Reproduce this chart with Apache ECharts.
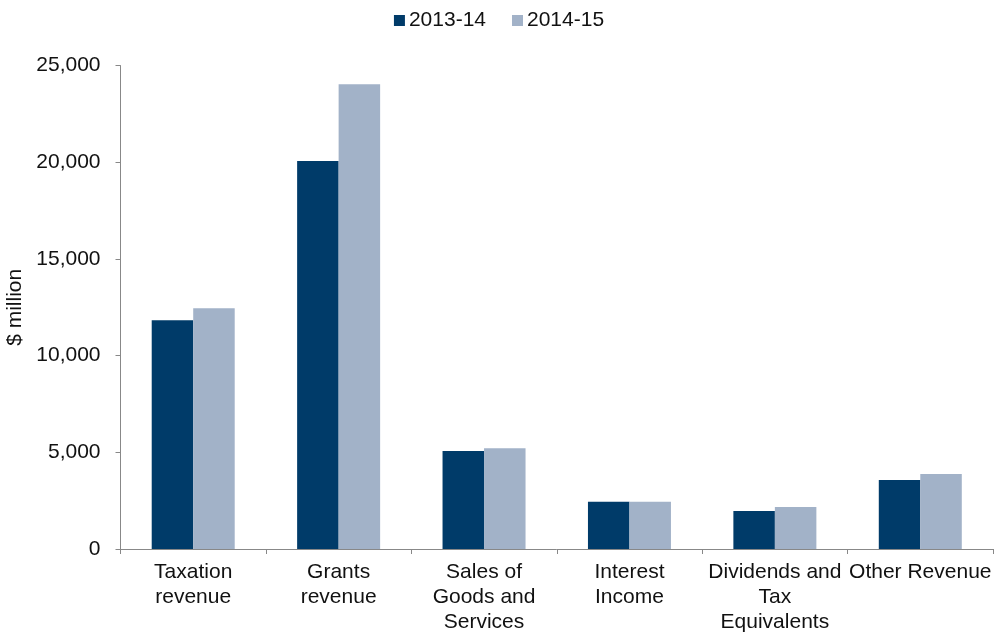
<!DOCTYPE html>
<html>
<head>
<meta charset="utf-8">
<style>
  html, body { margin: 0; padding: 0; background: #fff; }
  #chart { width: 998px; height: 635px; }
</style>
<script src="https://cdn.jsdelivr.net/npm/echarts@6/dist/echarts.min.js"></script>
</head>
<body>
<div id="chart"></div>
<script>
// Revenue by category, $ million
const categories = [
  'Taxation\nrevenue',
  'Grants\nrevenue',
  'Sales of\nGoods and\nServices',
  'Interest\nIncome',
  'Dividends and\nTax\nEquivalents',
  'Other Revenue'
];
const seriesNames = ['2013-14', '2014-15'];
const values2013 = [11830, 20060, 5070, 2450, 1970, 3570];
const values2014 = [12450, 24040, 5210, 2450, 2170, 3880];
const yTicks = { min: 0, max: 25000, interval: 5000 };

const font = 'Liberation Sans, Arial, sans-serif';
const chart = echarts.init(document.getElementById('chart'), null, { renderer: 'canvas' });

chart.setOption({
  animation: false,
  textStyle: { fontFamily: font },
  legend: {
    top: 5,
    left: 'center',
    itemWidth: 11,
    itemHeight: 11,
    itemGap: 26,
    icon: 'rect',
    textStyle: { fontSize: 21, color: '#111', fontFamily: font, padding: [0, 0, 0, -1] },
    data: seriesNames
  },
  grid: {
    left: 120.5, right: 5, top: 65.6, bottom: 86,
    containLabel: false,
    outerBoundsMode: 'none'
  },
  xAxis: {
    type: 'category',
    data: categories,
    axisLine: { lineStyle: { color: '#888', width: 1 } },
    axisTick: { show: true, alignWithLabel: false, length: 5, lineStyle: { color: '#888' } },
    axisLabel: {
      interval: 0,
      fontSize: 21,
      color: '#111',
      fontFamily: font,
      lineHeight: 25,
      margin: 11
    },
    splitLine: { show: false }
  },
  yAxis: {
    type: 'value',
    min: yTicks.min,
    max: yTicks.max,
    interval: yTicks.interval,
    name: '$ million',
    nameLocation: 'middle',
    nameGap: 88,
    nameRotate: 90,
    nameTextStyle: { fontSize: 21, color: '#111', fontFamily: font },
    axisLine: { show: true, lineStyle: { color: '#888', width: 1 } },
    axisTick: { show: true, length: 5, lineStyle: { color: '#888' } },
    axisLabel: {
      fontSize: 21,
      color: '#111',
      fontFamily: font,
      margin: 20,
      formatter: v => v.toLocaleString('en-US')
    },
    splitLine: { show: false }
  },
  series: [
    {
      name: seriesNames[0],
      type: 'bar',
      data: values2013,
      barWidth: 41.5,
      barGap: '0%',
      itemStyle: { color: '#003B69' }
    },
    {
      name: seriesNames[1],
      type: 'bar',
      data: values2014,
      barWidth: 41.5,
      barGap: '0%',
      itemStyle: { color: '#A2B2C8' }
    }
  ]
});
</script>
</body>
</html>
